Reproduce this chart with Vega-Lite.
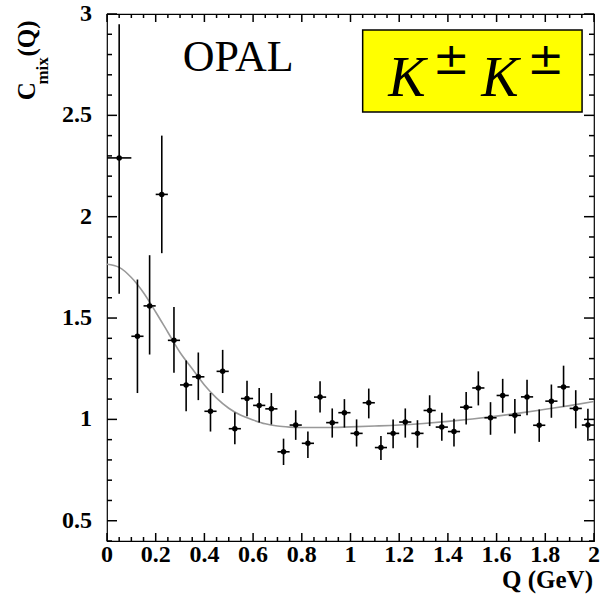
{
  "$schema": "https://vega.github.io/schema/vega-lite/v6.json",
  "width": 487,
  "height": 527,
  "autosize": {"type": "none"},
  "padding": {"left": 107, "top": 14, "right": 6, "bottom": 54},
  "background": "white",
  "config": {
    "view": {"stroke": "black", "strokeWidth": 1.2}
  },
  "datasets": {
    "pts": [
      {"Q": 0.05, "C": 2.29, "lo": 1.62, "hi": 2.95, "qlo": 0.0, "qhi": 0.1},
      {"Q": 0.125, "C": 1.41, "lo": 1.13, "hi": 1.69, "qlo": 0.1, "qhi": 0.15},
      {"Q": 0.175, "C": 1.56, "lo": 1.32, "hi": 1.81, "qlo": 0.15, "qhi": 0.2},
      {"Q": 0.225, "C": 2.11, "lo": 1.82, "hi": 2.40, "qlo": 0.2, "qhi": 0.25},
      {"Q": 0.275, "C": 1.39, "lo": 1.23, "hi": 1.555, "qlo": 0.25, "qhi": 0.3},
      {"Q": 0.325, "C": 1.17, "lo": 1.04, "hi": 1.29, "qlo": 0.3, "qhi": 0.35},
      {"Q": 0.375, "C": 1.21, "lo": 1.095, "hi": 1.33, "qlo": 0.35, "qhi": 0.4},
      {"Q": 0.425, "C": 1.04, "lo": 0.94, "hi": 1.13, "qlo": 0.4, "qhi": 0.45},
      {"Q": 0.475, "C": 1.237, "lo": 1.13, "hi": 1.343, "qlo": 0.45, "qhi": 0.5},
      {"Q": 0.525, "C": 0.954, "lo": 0.877, "hi": 1.034, "qlo": 0.5, "qhi": 0.55},
      {"Q": 0.575, "C": 1.103, "lo": 1.015, "hi": 1.19, "qlo": 0.55, "qhi": 0.6},
      {"Q": 0.625, "C": 1.069, "lo": 0.985, "hi": 1.155, "qlo": 0.6, "qhi": 0.65},
      {"Q": 0.675, "C": 1.052, "lo": 0.975, "hi": 1.13, "qlo": 0.65, "qhi": 0.7},
      {"Q": 0.725, "C": 0.84, "lo": 0.775, "hi": 0.905, "qlo": 0.7, "qhi": 0.75},
      {"Q": 0.775, "C": 0.972, "lo": 0.899, "hi": 1.045, "qlo": 0.75, "qhi": 0.8},
      {"Q": 0.825, "C": 0.882, "lo": 0.81, "hi": 0.94, "qlo": 0.8, "qhi": 0.85},
      {"Q": 0.875, "C": 1.11, "lo": 1.034, "hi": 1.188, "qlo": 0.85, "qhi": 0.9},
      {"Q": 0.925, "C": 0.984, "lo": 0.91, "hi": 1.054, "qlo": 0.9, "qhi": 0.95},
      {"Q": 0.975, "C": 1.033, "lo": 0.96, "hi": 1.10, "qlo": 0.95, "qhi": 1.0},
      {"Q": 1.025, "C": 0.931, "lo": 0.866, "hi": 1.0, "qlo": 1.0, "qhi": 1.05},
      {"Q": 1.075, "C": 1.082, "lo": 1.005, "hi": 1.152, "qlo": 1.05, "qhi": 1.1},
      {"Q": 1.125, "C": 0.861, "lo": 0.80, "hi": 0.918, "qlo": 1.1, "qhi": 1.15},
      {"Q": 1.175, "C": 0.931, "lo": 0.858, "hi": 1.0, "qlo": 1.15, "qhi": 1.2},
      {"Q": 1.225, "C": 0.987, "lo": 0.91, "hi": 1.054, "qlo": 1.2, "qhi": 1.25},
      {"Q": 1.275, "C": 0.931, "lo": 0.86, "hi": 0.996, "qlo": 1.25, "qhi": 1.3},
      {"Q": 1.325, "C": 1.044, "lo": 0.967, "hi": 1.119, "qlo": 1.3, "qhi": 1.35},
      {"Q": 1.375, "C": 0.962, "lo": 0.894, "hi": 1.033, "qlo": 1.35, "qhi": 1.4},
      {"Q": 1.425, "C": 0.94, "lo": 0.866, "hi": 1.003, "qlo": 1.4, "qhi": 1.45},
      {"Q": 1.475, "C": 1.06, "lo": 0.975, "hi": 1.135, "qlo": 1.45, "qhi": 1.5},
      {"Q": 1.525, "C": 1.155, "lo": 1.069, "hi": 1.237, "qlo": 1.5, "qhi": 1.55},
      {"Q": 1.575, "C": 1.008, "lo": 0.924, "hi": 1.085, "qlo": 1.55, "qhi": 1.6},
      {"Q": 1.625, "C": 1.118, "lo": 1.033, "hi": 1.2, "qlo": 1.6, "qhi": 1.65},
      {"Q": 1.675, "C": 1.02, "lo": 0.93, "hi": 1.10, "qlo": 1.65, "qhi": 1.7},
      {"Q": 1.725, "C": 1.111, "lo": 1.021, "hi": 1.196, "qlo": 1.7, "qhi": 1.75},
      {"Q": 1.775, "C": 0.971, "lo": 0.889, "hi": 1.049, "qlo": 1.75, "qhi": 1.8},
      {"Q": 1.825, "C": 1.09, "lo": 1.008, "hi": 1.172, "qlo": 1.8, "qhi": 1.85},
      {"Q": 1.875, "C": 1.16, "lo": 1.062, "hi": 1.265, "qlo": 1.85, "qhi": 1.9},
      {"Q": 1.925, "C": 1.054, "lo": 0.956, "hi": 1.144, "qlo": 1.9, "qhi": 1.95},
      {"Q": 1.975, "C": 0.972, "lo": 0.894, "hi": 1.052, "qlo": 1.95, "qhi": 2.0}
    ],
    "fit": [
      {"Q": 0.0, "C": 1.765}, {"Q": 0.05, "C": 1.75}, {"Q": 0.1, "C": 1.70},
      {"Q": 0.15, "C": 1.625}, {"Q": 0.2, "C": 1.53}, {"Q": 0.25, "C": 1.43},
      {"Q": 0.3, "C": 1.33}, {"Q": 0.35, "C": 1.25}, {"Q": 0.4, "C": 1.17},
      {"Q": 0.45, "C": 1.105}, {"Q": 0.5, "C": 1.055}, {"Q": 0.55, "C": 1.02},
      {"Q": 0.6, "C": 0.997}, {"Q": 0.65, "C": 0.978}, {"Q": 0.7, "C": 0.967},
      {"Q": 0.75, "C": 0.962}, {"Q": 0.8, "C": 0.96}, {"Q": 0.9, "C": 0.96},
      {"Q": 1.0, "C": 0.963}, {"Q": 1.1, "C": 0.967}, {"Q": 1.2, "C": 0.972},
      {"Q": 1.3, "C": 0.98}, {"Q": 1.4, "C": 0.99}, {"Q": 1.5, "C": 1.002},
      {"Q": 1.6, "C": 1.016}, {"Q": 1.7, "C": 1.032}, {"Q": 1.8, "C": 1.05},
      {"Q": 1.9, "C": 1.068}, {"Q": 2.0, "C": 1.088}
    ],
    "xmaj": [{"t": 0}, {"t": 0.2}, {"t": 0.4}, {"t": 0.6}, {"t": 0.8}, {"t": 1}, {"t": 1.2}, {"t": 1.4}, {"t": 1.6}, {"t": 1.8}, {"t": 2}],
    "xmin": [{"t": 0.05}, {"t": 0.1}, {"t": 0.15}, {"t": 0.25}, {"t": 0.3}, {"t": 0.35}, {"t": 0.45}, {"t": 0.5}, {"t": 0.55}, {"t": 0.65}, {"t": 0.7}, {"t": 0.75}, {"t": 0.85}, {"t": 0.9}, {"t": 0.95}, {"t": 1.05}, {"t": 1.1}, {"t": 1.15}, {"t": 1.25}, {"t": 1.3}, {"t": 1.35}, {"t": 1.45}, {"t": 1.5}, {"t": 1.55}, {"t": 1.65}, {"t": 1.7}, {"t": 1.75}, {"t": 1.85}, {"t": 1.9}, {"t": 1.95}],
    "ymaj": [{"t": 0.5}, {"t": 1}, {"t": 1.5}, {"t": 2}, {"t": 2.5}, {"t": 3}],
    "ymin": [{"t": 0.4}, {"t": 0.6}, {"t": 0.7}, {"t": 0.8}, {"t": 0.9}, {"t": 1.1}, {"t": 1.2}, {"t": 1.3}, {"t": 1.4}, {"t": 1.6}, {"t": 1.7}, {"t": 1.8}, {"t": 1.9}, {"t": 2.1}, {"t": 2.2}, {"t": 2.3}, {"t": 2.4}, {"t": 2.6}, {"t": 2.7}, {"t": 2.8}, {"t": 2.9}],
    "box": [{"x1": 1.05, "x2": 1.951, "y1": 2.921, "y2": 2.517}],
    "opal": [{"Q": 0.539, "C": 2.72, "label": "OPAL"}],
    "kaon": [{"Q": 1.232, "C": 2.595, "label": "K"}, {"Q": 1.614, "C": 2.595, "label": "K"}],
    "pm": [{"Q": 1.414, "C": 2.704, "label": "±"}, {"Q": 1.802, "C": 2.704, "label": "±"}],
    "ymain": [{"Q": -0.296, "C": 2.575, "label": "C"}, {"Q": -0.296, "C": 2.79, "label": "(Q)"}],
    "ysub": [{"Q": -0.242, "C": 2.652, "label": "mix"}],
    "xtitle": [{"Q": 2, "C": 0.4, "label": "Q (GeV)"}]
  },
  "layer": [
    {
      "data": {"name": "box"},
      "mark": {"type": "rect", "fill": "#ffff00", "stroke": "black", "strokeWidth": 1.5},
      "encoding": {
        "x": {"field": "x1", "type": "quantitative", "scale": {"domain": [0, 2], "nice": false, "zero": false}, "axis": null},
        "x2": {"field": "x2"},
        "y": {"field": "y1", "type": "quantitative", "scale": {"domain": [0.4, 3], "nice": false, "zero": false}, "axis": null},
        "y2": {"field": "y2"}
      }
    },
    {
      "data": {"name": "fit"},
      "mark": {"type": "line", "color": "#999999", "strokeWidth": 1.6, "interpolate": "monotone"},
      "encoding": {
        "x": {"field": "Q", "type": "quantitative"},
        "y": {"field": "C", "type": "quantitative"}
      }
    },
    {
      "data": {"name": "xmaj"},
      "mark": {"type": "rule", "color": "black", "strokeWidth": 1.5, "y2Offset": -8},
      "encoding": {"x": {"field": "t", "type": "quantitative"}, "y": {"datum": 0.4, "type": "quantitative"}, "y2": {"datum": 0.4}}
    },
    {
      "data": {"name": "xmaj"},
      "mark": {"type": "rule", "color": "black", "strokeWidth": 1.5, "y2Offset": 8},
      "encoding": {"x": {"field": "t", "type": "quantitative"}, "y": {"datum": 3, "type": "quantitative"}, "y2": {"datum": 3}}
    },
    {
      "data": {"name": "xmin"},
      "mark": {"type": "rule", "color": "black", "strokeWidth": 1.5, "y2Offset": -4},
      "encoding": {"x": {"field": "t", "type": "quantitative"}, "y": {"datum": 0.4, "type": "quantitative"}, "y2": {"datum": 0.4}}
    },
    {
      "data": {"name": "xmin"},
      "mark": {"type": "rule", "color": "black", "strokeWidth": 1.5, "y2Offset": 4},
      "encoding": {"x": {"field": "t", "type": "quantitative"}, "y": {"datum": 3, "type": "quantitative"}, "y2": {"datum": 3}}
    },
    {
      "data": {"name": "ymaj"},
      "mark": {"type": "rule", "color": "black", "strokeWidth": 1.5, "x2Offset": 10},
      "encoding": {"y": {"field": "t", "type": "quantitative"}, "x": {"datum": 0, "type": "quantitative"}, "x2": {"datum": 0}}
    },
    {
      "data": {"name": "ymaj"},
      "mark": {"type": "rule", "color": "black", "strokeWidth": 1.5, "x2Offset": -10},
      "encoding": {"y": {"field": "t", "type": "quantitative"}, "x": {"datum": 2, "type": "quantitative"}, "x2": {"datum": 2}}
    },
    {
      "data": {"name": "ymin"},
      "mark": {"type": "rule", "color": "black", "strokeWidth": 1.5, "x2Offset": 5},
      "encoding": {"y": {"field": "t", "type": "quantitative"}, "x": {"datum": 0, "type": "quantitative"}, "x2": {"datum": 0}}
    },
    {
      "data": {"name": "ymin"},
      "mark": {"type": "rule", "color": "black", "strokeWidth": 1.5, "x2Offset": -5},
      "encoding": {"y": {"field": "t", "type": "quantitative"}, "x": {"datum": 2, "type": "quantitative"}, "x2": {"datum": 2}}
    },
    {
      "data": {"name": "xmaj"},
      "mark": {"type": "text", "font": "Liberation Serif", "fontWeight": "bold", "fontSize": 24, "align": "center", "baseline": "top", "dy": 2, "color": "black"},
      "encoding": {
        "x": {"field": "t", "type": "quantitative"},
        "y": {"datum": 0.4, "type": "quantitative"},
        "text": {"field": "t", "type": "quantitative", "format": "~g"}
      }
    },
    {
      "data": {"name": "ymaj"},
      "mark": {"type": "text", "font": "Liberation Serif", "fontWeight": "bold", "fontSize": 24, "align": "right", "baseline": "middle", "dx": -15, "color": "black"},
      "encoding": {
        "x": {"datum": 0, "type": "quantitative"},
        "y": {"field": "t", "type": "quantitative"},
        "text": {"field": "t", "type": "quantitative", "format": "~g"}
      }
    },
    {
      "data": {"name": "xtitle"},
      "mark": {"type": "text", "font": "Liberation Serif", "fontWeight": "bold", "fontSize": 25, "align": "right", "baseline": "top", "dy": 27, "dx": -1, "color": "black"},
      "encoding": {
        "x": {"field": "Q", "type": "quantitative"},
        "y": {"field": "C", "type": "quantitative"},
        "text": {"field": "label"}
      }
    },
    {
      "data": {"name": "pts"},
      "mark": {"type": "rule", "color": "black", "strokeWidth": 1.6},
      "encoding": {
        "x": {"field": "Q", "type": "quantitative"},
        "y": {"field": "lo", "type": "quantitative"},
        "y2": {"field": "hi"}
      }
    },
    {
      "data": {"name": "pts"},
      "mark": {"type": "rule", "color": "black", "strokeWidth": 1.6},
      "encoding": {
        "x": {"field": "qlo", "type": "quantitative"},
        "x2": {"field": "qhi"},
        "y": {"field": "C", "type": "quantitative"}
      }
    },
    {
      "data": {"name": "pts"},
      "mark": {"type": "point", "filled": true, "color": "black", "size": 30, "opacity": 1},
      "encoding": {
        "x": {"field": "Q", "type": "quantitative"},
        "y": {"field": "C", "type": "quantitative"}
      }
    },
    {
      "data": {"name": "opal"},
      "mark": {"type": "text", "font": "Liberation Serif", "fontSize": 44, "align": "center", "baseline": "alphabetic", "color": "black"},
      "encoding": {
        "x": {"field": "Q", "type": "quantitative"},
        "y": {"field": "C", "type": "quantitative"},
        "text": {"field": "label"}
      }
    },
    {
      "data": {"name": "kaon"},
      "mark": {"type": "text", "font": "Liberation Serif", "fontStyle": "italic", "fontSize": 56, "align": "center", "baseline": "alphabetic", "color": "black"},
      "encoding": {
        "x": {"field": "Q", "type": "quantitative"},
        "y": {"field": "C", "type": "quantitative"},
        "text": {"field": "label"}
      }
    },
    {
      "data": {"name": "pm"},
      "mark": {"type": "text", "font": "DejaVu Serif", "fontSize": 44, "align": "center", "baseline": "alphabetic", "color": "black"},
      "encoding": {
        "x": {"field": "Q", "type": "quantitative"},
        "y": {"field": "C", "type": "quantitative"},
        "text": {"field": "label"}
      }
    },
    {
      "data": {"name": "ymain"},
      "mark": {"type": "text", "font": "Liberation Serif", "fontWeight": "bold", "fontSize": 25, "angle": 270, "align": "left", "baseline": "alphabetic", "color": "black"},
      "encoding": {
        "x": {"field": "Q", "type": "quantitative"},
        "y": {"field": "C", "type": "quantitative"},
        "text": {"field": "label"}
      }
    },
    {
      "data": {"name": "ysub"},
      "mark": {"type": "text", "font": "Liberation Serif", "fontWeight": "bold", "fontSize": 17, "angle": 270, "align": "left", "baseline": "alphabetic", "color": "black"},
      "encoding": {
        "x": {"field": "Q", "type": "quantitative"},
        "y": {"field": "C", "type": "quantitative"},
        "text": {"field": "label"}
      }
    }
  ]
}
